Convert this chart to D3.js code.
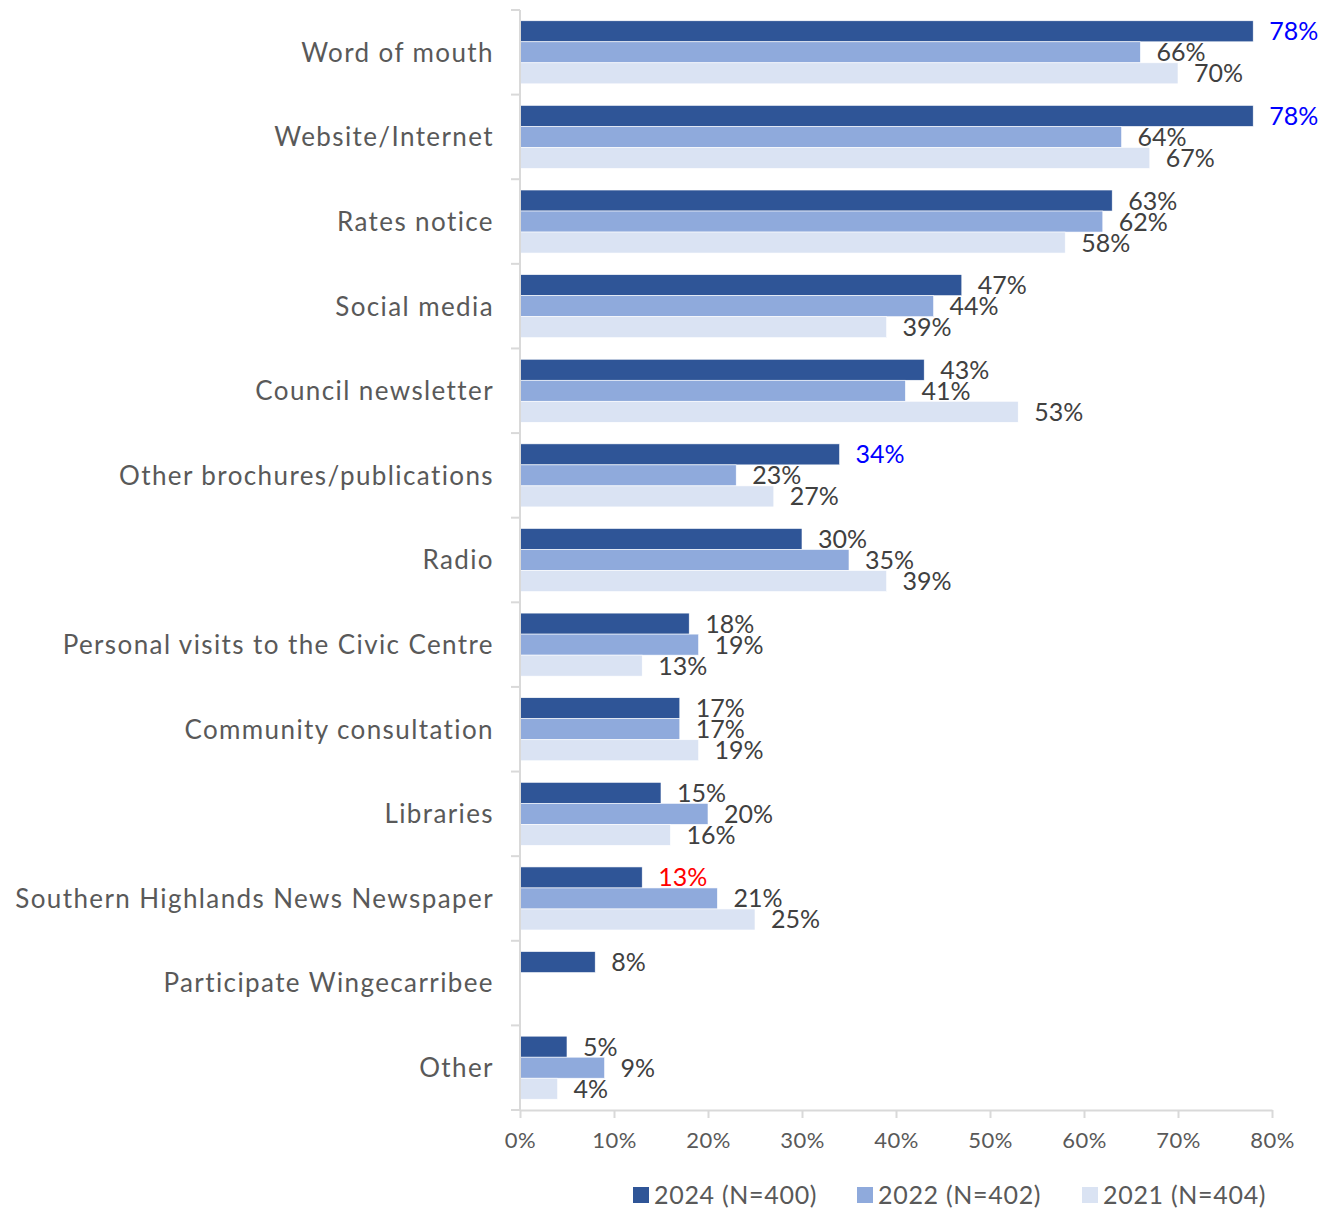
<!DOCTYPE html>
<html>
<head>
<meta charset="utf-8">
<script src="https://cdn.jsdelivr.net/npm/d3@7"></script>
<style>
  html, body { margin: 0; padding: 0; background: #fff; }
  svg { display: block; font-family: Lato, "Noto Sans", sans-serif; }
</style>
</head>
<body>
<svg id="chart" width="1321" height="1209"></svg>
<script>
// Information sources, share of respondents by survey year
const categories = [
  "Word of mouth",
  "Website/Internet",
  "Rates notice",
  "Social media",
  "Council newsletter",
  "Other brochures/publications",
  "Radio",
  "Personal visits to the Civic Centre",
  "Community consultation",
  "Libraries",
  "Southern Highlands News Newspaper",
  "Participate Wingecarribee",
  "Other"
];
const seriesNames = ["2024 (N=400)", "2022 (N=402)", "2021 (N=404)"];
const values2024 = [78, 78, 63, 47, 43, 34, 30, 18, 17, 15, 13, 8, 5];
const values2022 = [66, 64, 62, 44, 41, 23, 35, 19, 17, 20, 21, null, 9];
const values2021 = [70, 67, 58, 39, 53, 27, 39, 13, 19, 16, 25, null, 4];
// Highlighted 2024 labels: significantly higher (blue) / lower (red)
const labelColors2024 = ["#0000FF", "#0000FF", null, null, null, "#0000FF", null, null, null, null, "#FF0000", null, null];
const xTicks = [0, 10, 20, 30, 40, 50, 60, 70, 80];

const colors = ["#2F5597", "#8FAADC", "#DAE3F3"];
const allSeries = [values2024, values2022, values2021];

const svg = d3.select("#chart");
const margin = { left: 520, right: 49, top: 10, bottom: 99 };
const W = 1321, H = 1209;

const x = d3.scaleLinear().domain([0, 80]).range([margin.left, W - margin.right]);
const y = d3.scaleBand().domain(categories).range([margin.top, H - margin.bottom]).paddingInner(0.255).paddingOuter(0.1275);
const ySub = d3.scaleBand().domain([0, 1, 2]).range([0, y.bandwidth()]);

const bandStep = y.step();

// bars
const groups = svg.append("g").selectAll("g")
  .data(categories)
  .join("g")
  .attr("transform", d => `translate(0,${y(d)})`);

allSeries.forEach((vals, si) => {
  groups.filter((d, i) => vals[i] != null)
    .append("rect")
    .attr("x", x(0))
    .attr("y", ySub(si))
    .attr("width", (d) => x(vals[categories.indexOf(d)]) - x(0))
    .attr("height", ySub.bandwidth())
    .attr("fill", colors[si])
    .attr("stroke", "#ffffff")
    .attr("stroke-width", 0.6);
});

// data labels
allSeries.forEach((vals, si) => {
  groups.filter((d, i) => vals[i] != null)
    .append("text")
    .attr("x", d => x(vals[categories.indexOf(d)]) + 16)
    .attr("y", ySub(si) + ySub.bandwidth() / 2)
    .attr("dy", "0.36em")
    .attr("font-size", 25)
    .attr("fill", d => (si === 0 && labelColors2024[categories.indexOf(d)]) || "#404040")
    .text(d => vals[categories.indexOf(d)] + "%");
});

// y axis line with ticks at category boundaries
const axisColor = "#D9D9D9";
svg.append("line")
  .attr("x1", x(0)).attr("x2", x(0))
  .attr("y1", margin.top).attr("y2", H - margin.bottom)
  .attr("stroke", axisColor).attr("stroke-width", 2);
const boundaries = d3.range(categories.length + 1).map(i => margin.top + i * bandStep);
svg.append("g").selectAll("line")
  .data(boundaries)
  .join("line")
  .attr("x1", x(0) - 9).attr("x2", x(0))
  .attr("y1", d => d).attr("y2", d => d)
  .attr("stroke", axisColor).attr("stroke-width", 2);

// category labels
svg.append("g").selectAll("text")
  .data(categories)
  .join("text")
  .attr("x", x(0) - 26)
  .attr("y", d => y(d) + y.bandwidth() / 2)
  .attr("dy", "0.36em")
  .attr("text-anchor", "end")
  .attr("font-size", 26)
  .attr("letter-spacing", "1.4px")
  .attr("fill", "#595959")
  .text(d => d);

// x axis
const xAxis = svg.append("g")
  .attr("transform", `translate(0,${H - margin.bottom})`)
  .call(d3.axisBottom(x).tickValues(xTicks).tickFormat(d => d + "%").tickSize(8).tickPadding(14).tickSizeOuter(0));
xAxis.select(".domain").attr("stroke", axisColor).attr("stroke-width", 2);
xAxis.selectAll(".tick line").attr("stroke", axisColor).attr("stroke-width", 2);
xAxis.selectAll(".tick text")
  .attr("font-family", "Lato, 'Noto Sans', sans-serif")
  .attr("font-size", 22)
  .attr("letter-spacing", "0.5px")
  .attr("fill", "#595959");

// legend
const legendX = [633, 857, 1082];
const legend = svg.append("g").selectAll("g")
  .data(seriesNames)
  .join("g")
  .attr("transform", (d, i) => `translate(${legendX[i]},1195)`);
legend.append("rect")
  .attr("x", 0).attr("y", -8)
  .attr("width", 16).attr("height", 16)
  .attr("fill", (d, i) => colors[i]);
legend.append("text")
  .attr("x", 21)
  .attr("dy", "0.36em")
  .attr("font-size", 25)
  .attr("letter-spacing", "0.7px")
  .attr("fill", "#595959")
  .text(d => d);
</script>
</body>
</html>
